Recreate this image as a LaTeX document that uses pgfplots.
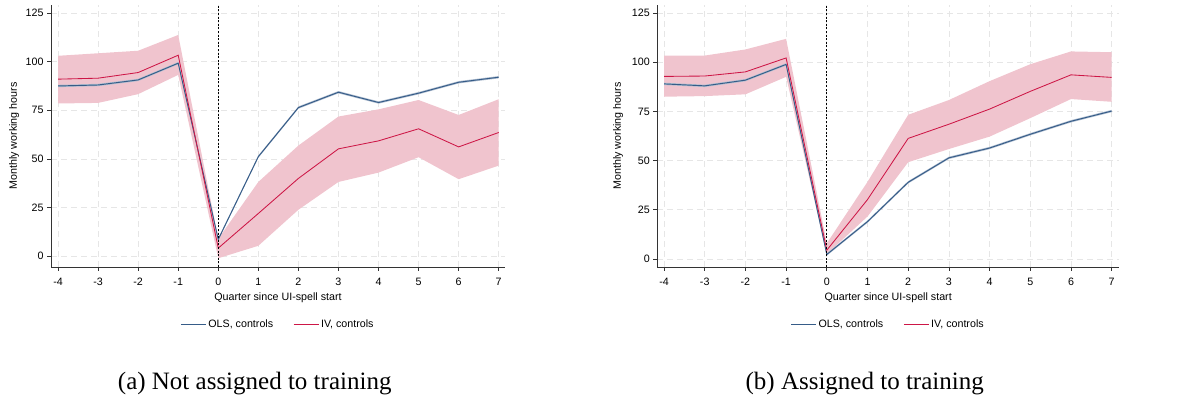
\documentclass[border=0pt]{standalone}
\usepackage{pgfplots}
\pgfplotsset{compat=1.18}
\usepgfplotslibrary{fillbetween}
\usepackage{fontspec}
\setmainfont{Liberation Sans}
\newfontfamily\capfont{Liberation Serif}

\definecolor{olsblue}{RGB}{54,92,136}
\definecolor{olsband}{RGB}{176,190,208}
\definecolor{ivred}{RGB}{205,22,70}
\definecolor{ivband}{RGB}{240,196,206}
\definecolor{gridgray}{RGB}{230,230,230}

% Event-study estimates: quarter, OLS (with CI), IV (with CI)
\pgfplotstableread{
q  ols    olslo  olshi  iv     ivlo   ivhi
-4 87.5   86.9   88.1   91.0   78.5   103.0
-3 88.0   87.4   88.6   91.5   78.8   104.3
-2 90.6   90.0   91.2   94.4   83.3   105.6
-1 99.2   98.6   99.8   103.3  93.2   113.7
0  8.7    8.1    9.3    4.2    -1.0   9.0
1  51.2   50.6   51.8   22.0   5.4    38.2
2  76.4   75.8   77.0   40.0   23.9   56.9
3  84.3   83.7   84.9   55.2   38.2   71.8
4  79.0   78.4   79.6   59.3   43.0   75.5
5  83.8   83.2   84.4   65.5   50.9   80.3
6  89.4   88.8   90.0   56.2   39.6   72.6
7  92.0   91.4   92.6   63.6   46.6   80.7
}\notrained

\pgfplotstableread{
q  ols    olslo  olshi  iv     ivlo   ivhi
-4 89.0   88.4   89.6   92.8   82.5   103.4
-3 88.0   87.4   88.6   93.0   82.8   103.4
-2 90.9   90.3   91.5   95.1   83.7   106.5
-1 98.9   98.3   99.5   102.2  92.6   111.9
0  2.3    1.7    2.9    4.5    2.5    8.0
1  19.0   18.4   19.6   30.2   21.6   39.2
2  39.0   38.4   39.6   61.3   49.2   73.3
3  51.4   50.8   52.0   68.5   55.9   80.8
4  56.4   55.8   57.0   76.2   62.2   90.4
5  63.4   62.8   64.0   85.2   71.6   99.0
6  70.0   69.4   70.6   93.6   81.3   105.5
7  75.2   74.6   75.8   92.3   79.9   105.1
}\trained

\pgfplotsset{
  evstudy/.style={
    scale only axis,
    height=262bp,
    axis lines=left,
    axis line style={-, black!80, line width=0.7bp},
    tick align=outside,
    major tick length=4bp,
    tick style={black!80, line width=0.7bp},
    xtick={-4,...,7},
    ytick={0,25,50,75,100,125},
    grid=major,
    major grid style={gridgray, dash pattern=on 6bp off 4bp, line width=0.7bp},
    font=\fontsize{10.7bp}{12bp}\selectfont,
    xticklabel style={yshift=-4bp},
    /pgf/number format/assume math mode=true,
    xlabel={Quarter since UI-spell start},
    ylabel={Monthly working hours},
    xlabel style={at={(axis description cs:0.5,-0.118)}, anchor=center},
    legend style={at={(axis description cs:0.5,-0.2176)}, anchor=center,
      draw=none, fill=none, legend columns=2,
      font=\fontsize{10.7bp}{12bp}\selectfont,
      /tikz/every even column/.append style={column sep=18bp}},
    legend image code/.code={\draw[##1] (0bp,0bp) -- (25bp,0bp);},
    legend cell align=left,
  },
}

\begin{document}
\begin{tikzpicture}

% (a) Not assigned to training
\begin{axis}[evstudy,
  at={(51bp,134bp)}, anchor=south west, width=454bp,
  xmin=-4.175, xmax=7.157, ymin=-5.5, ymax=129.1,
  ylabel style={at={(axis description cs:-0.0815,0.5)}, anchor=center},
]
\addplot[name path=ivhiA, draw=none, forget plot] table[x=q, y=ivhi] {\notrained};
\addplot[name path=ivloA, draw=none, forget plot] table[x=q, y=ivlo] {\notrained};
\addplot[ivband, forget plot] fill between[of=ivhiA and ivloA];
\addplot[name path=olshiA, draw=none, forget plot] table[x=q, y=olshi] {\notrained};
\addplot[name path=olsloA, draw=none, forget plot] table[x=q, y=olslo] {\notrained};
\addplot[olsband, forget plot] fill between[of=olshiA and olsloA];
\addplot[olsblue, line width=0.95bp] table[x=q, y=ols] {\notrained};
\addlegendentry{OLS, controls}
\addplot[ivred, line width=0.85bp] table[x=q, y=iv] {\notrained};
\addlegendentry{IV, controls}
\draw[black, line width=0.8bp, dash pattern=on 2bp off 1.6bp]
  (axis cs:0,-5.5) -- (axis cs:0,129.1);
\end{axis}

% (b) Assigned to training
\begin{axis}[evstudy,
  at={(657.3bp,134bp)}, anchor=south west, width=461.7bp,
  xmin=-4.165, xmax=7.18, ymin=-4.06, ymax=129.1,
  ylabel style={at={(axis description cs:-0.085,0.5)}, anchor=center},
]
\addplot[name path=ivhiB, draw=none, forget plot] table[x=q, y=ivhi] {\trained};
\addplot[name path=ivloB, draw=none, forget plot] table[x=q, y=ivlo] {\trained};
\addplot[ivband, forget plot] fill between[of=ivhiB and ivloB];
\addplot[name path=olshiB, draw=none, forget plot] table[x=q, y=olshi] {\trained};
\addplot[name path=olsloB, draw=none, forget plot] table[x=q, y=olslo] {\trained};
\addplot[olsband, forget plot] fill between[of=olshiB and olsloB];
\addplot[olsblue, line width=0.95bp] table[x=q, y=ols] {\trained};
\addlegendentry{OLS, controls}
\addplot[ivred, line width=0.85bp] table[x=q, y=iv] {\trained};
\addlegendentry{IV, controls}
\draw[black, line width=0.8bp, dash pattern=on 2bp off 1.6bp]
  (axis cs:0,-4.06) -- (axis cs:0,129.1);
\end{axis}

\node[anchor=base, font=\capfont\fontsize{25bp}{30bp}\selectfont] at (254.7bp,12bp) {(a) Not assigned to training};
\node[anchor=base, font=\capfont\fontsize{25bp}{30bp}\selectfont] at (864.7bp,12bp) {(b) Assigned to training};

\pgfresetboundingbox
\useasboundingbox (0,0) rectangle (1190bp,401bp);
\end{tikzpicture}
\end{document}
